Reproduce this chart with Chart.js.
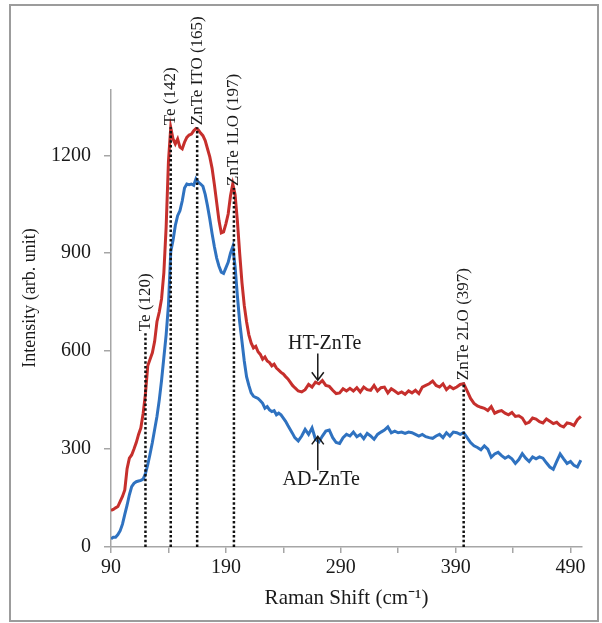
<!DOCTYPE html>
<html>
<head>
<meta charset="utf-8">
<script src="https://cdn.jsdelivr.net/npm/chart.js@4.4.0/dist/chart.umd.min.js"></script>
<style>
  body { margin: 0; background: #fff; }
  #wrap { width: 602px; height: 623px; position: relative; }
</style>
</head>
<body>
<div id="wrap"><canvas id="ramanChart"></canvas></div>
<script>
// Raman shift (cm-1)
const ramanShift = [
  90,92,94,96,98,100,102,104,106,108,110,112,114,116,118,120,122,124,126,128,
  130,132,134,136,138,140,142,144,146,148,150,152,154,156,158,160,162,164,166,168,
  170,172,174,176,178,180,182,184,186,188,190,192,194,196,198,200,202,204,206,208,
  210,212,214,216,218,220,222,224,226,228,230,232,234,236,238,240,242,244,246,248,250,
  253,256,259,262,265,268,271,274,277,280,283,286,289,292,295,298,301,304,307,310,
  313,316,319,322,325,328,331,334,337,340,343,346,349,352,355,358,361,364,367,370,
  373,376,379,382,385,388,391,394,397,400,403,406,409,412,415,418,421,424,427,430,
  433,436,439,442,445,448,451,454,457,460,463,466,469,472,475,478,481,484,487,490,
  493,496,499
];

// HT-ZnTe (red)
const htIntensity = [
  112,115,120,124,140,155,175,240,272,282,300,320,345,365,410,470,555,575,595,630,
  690,720,760,840,980,1180,1285,1250,1235,1250,1225,1220,1240,1255,1262,1265,1275,1282,1278,1268,
  1260,1245,1220,1195,1160,1110,1055,1000,962,965,990,1020,1075,1112,1080,1000,900,810,740,690,
  650,625,610,615,598,590,575,582,570,565,555,560,548,542,535,530,522,515,505,495,488,
  478,475,482,498,490,505,500,510,495,492,480,470,472,485,478,486,478,488,475,490,
  482,480,495,478,488,490,472,485,478,470,475,468,478,472,480,470,490,495,500,508,
  495,490,500,482,492,485,490,498,500,478,455,440,432,428,425,418,430,410,415,418,
  410,405,412,400,402,395,378,382,395,392,384,380,392,385,378,382,372,368,380,378,
  372,390,400
];

// AD-ZnTe (blue)
const adIntensity = [
  25,30,30,38,50,70,100,128,160,185,195,200,202,204,208,225,252,285,320,360,
  400,450,510,580,650,740,905,940,985,1015,1030,1060,1100,1112,1110,1112,1108,1128,1118,1112,
  1105,1080,1045,1005,960,920,885,860,842,838,855,872,900,920,860,770,690,630,570,522,
  495,472,462,458,455,448,440,425,430,420,415,418,405,410,405,395,385,372,360,348,335,
  325,340,360,345,365,330,322,340,355,358,335,320,317,335,345,340,352,338,345,332,
  348,340,330,345,352,358,368,350,355,350,352,348,352,350,345,340,345,338,335,333,
  340,345,335,350,340,352,350,345,350,335,320,310,305,298,310,300,275,285,290,280,
  272,278,270,256,268,286,272,262,276,270,276,272,258,245,238,262,285,270,256,262,
  250,245,266
];

const xTicks = [90,140,190,240,290,340,390,440,490];
const xLabels = [90,190,290,390,490];
const yTicks = [0,300,600,900,1200];

// marked peaks: position, top of the dotted line, label
const peakShift = [120,142,165,197,397];
const peakTop = [655,1286,1286,1100,505];
const peakLabel = ['Te (120)','Te (142)','ZnTe ITO (165)','ZnTe 1LO (197)','ZnTe 2LO (397)'];

// sample names with arrows (data coords)
const sampleName = ['HT-ZnTe','AD-ZnTe'];
const sampleTextAt = [[276,624],[273,207]];
const arrowFrom = [[270,593],[270,235]];
const arrowTo = [[270,511],[270,339]];

const serif = '"Liberation Serif", "Times New Roman", serif';
const axisGray = '#a6a6a6';
const inkColor = '#1a1a1a';

const peakSets = peakShift.map((p, i) => ({
  data: [{x: p, y: 0}, {x: p, y: peakTop[i]}],
  borderColor: '#111',
  borderWidth: 2.5,
  borderDash: [2.5, 2.2],
  pointRadius: 0,
  order: 1
}));

// draws the frame, the y title, peak labels and the arrows
const annotate = {
  id: 'annotate',
  beforeDraw(chart) {
    const ctx = chart.ctx;
    ctx.save();
    ctx.strokeStyle = '#9c9c9c';
    ctx.lineWidth = 2;
    ctx.strokeRect(10, 5, 588, 616);
    ctx.restore();
  },
  afterDraw(chart) {
    const ctx = chart.ctx;
    const xs = chart.scales.x, ys = chart.scales.y;
    ctx.save();
    ctx.fillStyle = inkColor;

    // y axis title
    ctx.save();
    ctx.translate(30, 298);
    ctx.rotate(-Math.PI / 2);
    ctx.font = '18px ' + serif;
    ctx.textAlign = 'center';
    ctx.textBaseline = 'middle';
    ctx.fillText('Intensity (arb. unit)', 0, 0);
    ctx.restore();

    // peak labels, vertical, starting just above each dotted line
    peakShift.forEach((p, i) => {
      ctx.save();
      ctx.translate(xs.getPixelForValue(p), ys.getPixelForValue(peakTop[i]) - 2);
      ctx.rotate(-Math.PI / 2);
      ctx.font = '17px ' + serif;
      ctx.textAlign = 'left';
      ctx.textBaseline = 'middle';
      ctx.fillText(peakLabel[i], 0, 0);
      ctx.restore();
    });

    // sample names + arrows
    ctx.font = '20px ' + serif;
    ctx.textAlign = 'center';
    ctx.textBaseline = 'middle';
    ctx.strokeStyle = inkColor;
    ctx.lineWidth = 1.5;
    sampleName.forEach((name, i) => {
      ctx.fillText(name, xs.getPixelForValue(sampleTextAt[i][0]), ys.getPixelForValue(sampleTextAt[i][1]));
      const x0 = xs.getPixelForValue(arrowFrom[i][0]), y0 = ys.getPixelForValue(arrowFrom[i][1]);
      const x1 = xs.getPixelForValue(arrowTo[i][0]), y1 = ys.getPixelForValue(arrowTo[i][1]);
      const dir = y1 > y0 ? -1 : 1;
      ctx.beginPath();
      ctx.moveTo(x0, y0);
      ctx.lineTo(x1, y1);
      ctx.moveTo(x1 - 6, y1 + dir * 8);
      ctx.lineTo(x1, y1);
      ctx.lineTo(x1 + 6, y1 + dir * 8);
      ctx.stroke();
    });
    ctx.restore();
  }
};

new Chart(document.getElementById('ramanChart'), {
  type: 'line',
  data: {
    datasets: [
      {
        label: 'HT-ZnTe',
        data: ramanShift.map((s, i) => ({x: s, y: htIntensity[i]})),
        borderColor: '#c62f2c',
        borderWidth: 3,
        pointRadius: 0,
        order: 2
      },
      {
        label: 'AD-ZnTe',
        data: ramanShift.map((s, i) => ({x: s, y: adIntensity[i]})),
        borderColor: '#2f72c0',
        borderWidth: 3,
        pointRadius: 0,
        order: 2
      },
      ...peakSets
    ]
  },
  options: {
    responsive: true,
    maintainAspectRatio: false,
    animation: false,
    layout: { padding: { top: 90, right: 20, left: 0, bottom: 0 } },
    plugins: {
      legend: { display: false },
      tooltip: { enabled: false }
    },
    scales: {
      x: {
        type: 'linear',
        min: 90,
        max: 500,
        border: { color: axisGray, width: 1.5 },
        grid: { drawOnChartArea: false, drawTicks: true, tickLength: 6, color: axisGray, lineWidth: 1.5 },
        afterBuildTicks: s => { s.ticks = xTicks.map(v => ({value: v})); },
        afterFit: s => { s.height = 76; },
        ticks: {
          color: inkColor,
          font: { family: serif, size: 20 },
          padding: 3,
          maxRotation: 0,
          callback: v => xLabels.includes(v) ? String(v) : ''
        },
        title: {
          display: true,
          text: 'Raman Shift (cm\u207B\u00B9)',
          color: inkColor,
          font: { family: serif, size: 21 },
          padding: { top: 2, bottom: 12 }
        }
      },
      y: {
        min: 0,
        max: 1400,
        border: { color: axisGray, width: 1.5 },
        grid: { drawOnChartArea: false, drawTicks: true, tickLength: 7, color: axisGray, lineWidth: 1.5 },
        afterBuildTicks: s => { s.ticks = yTicks.map(v => ({value: v})); },
        afterFit: s => { s.width = 111; },
        ticks: {
          color: inkColor,
          font: { family: serif, size: 20 },
          padding: 13,
          callback: v => String(v)
        }
      }
    }
  },
  plugins: [annotate]
});
</script>
</body>
</html>
